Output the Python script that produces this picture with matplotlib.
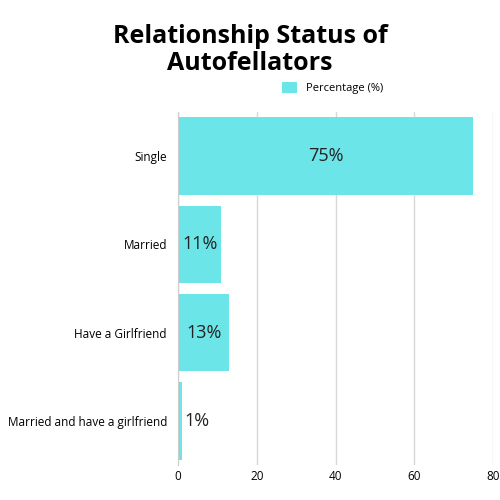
import matplotlib.pyplot as plt

categories = ["Single", "Married", "Have a Girlfriend", "Married and have a girlfriend"]
values = [75, 11, 13, 1]
labels = ["75%", "11%", "13%", "1%"]

plt.rcParams['font.family'] = ['Open Sans', 'DejaVu Sans']

fig = plt.figure(figsize=(5, 5), dpi=100)
ax = fig.add_axes([0.356, 0.07, 0.63, 0.706])
color = '#6ce5e8'
ypos = list(range(len(categories)))
ax.barh(ypos, values, height=0.88, color=color, label='Percentage (%)', zorder=2)
for y, v, t in zip(ypos, values, labels):
    ax.text(max(v / 2, 4.8), y, t, ha='center', va='center', fontsize=13, color='#222222', zorder=3)

ax.set_yticks(ypos)
ax.set_yticklabels(categories, fontsize=8.5)
ax.set_ylim(3.5, -0.5)
ax.set_xlim(0, 80)
ax.set_xticks([0, 20, 40, 60, 80])
ax.tick_params(axis='x', labelsize=8.5, length=0)
ax.tick_params(axis='y', length=0, pad=8)
ax.grid(axis='x', color='#d8d8d8', lw=1, zorder=0)
for s in ['top', 'right', 'bottom']:
    ax.spines[s].set_visible(False)
ax.spines['left'].set_color('#cccccc')

fig.text(0.5, 0.9, "Relationship Status of\nAutofellators", ha='center', va='center',
         fontsize=18, fontweight='bold', linespacing=1.1)
fig.legend(loc='center', bbox_to_anchor=(0.665, 0.824), frameon=False, fontsize=8,
           handlelength=1.3, handleheight=1.1)

fig.savefig('out.png')
